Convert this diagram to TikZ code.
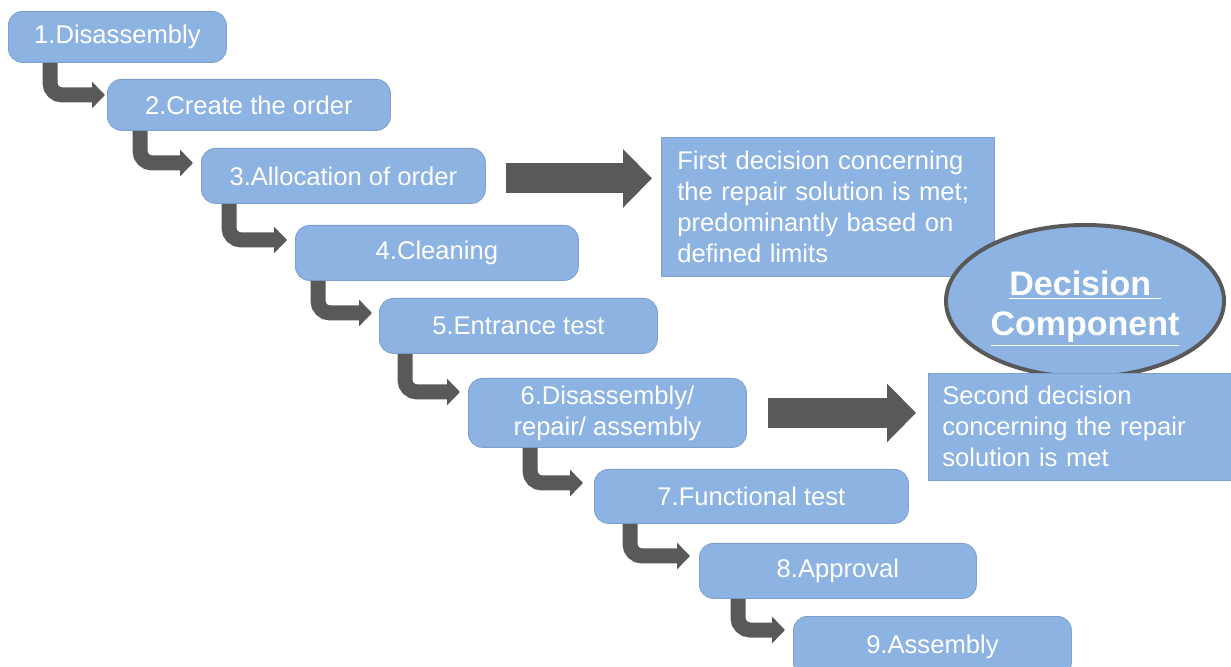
\documentclass[tikz,border=0pt]{standalone}
\usepackage{fontspec}
\setmainfont{Liberation Sans}
\usepackage{tikz}
\usetikzlibrary{arrows.meta}
\usetikzlibrary{shapes}

\definecolor{boxblue}{RGB}{141,179,226}
\definecolor{boxedge}{RGB}{125,160,205}
\definecolor{arrowgray}{RGB}{89,89,89}

\tikzset{
  stepbox/.style={rectangle, rounded corners=7pt, fill=boxblue, draw=boxedge, line width=0.4pt, text=white, anchor=north west, inner sep=0pt, align=center, font=\fontsize{12.8}{15.5}\selectfont},
  notebox/.style={rectangle, fill=boxblue, draw=boxedge, line width=0.3pt, text=white, anchor=north west, inner ysep=0pt, align=left, font=\fontsize{12.8}{15.5}\selectfont},
  bendarrow/.style={draw=arrowgray, line width=7.5pt, rounded corners=6pt, -{Triangle[width=13pt,length=6.5pt]}},
  bigarrow/.style={draw=arrowgray, line width=15pt, -{Triangle[width=28.5pt,length=14.5pt]}}
}

\begin{document}
\begin{tikzpicture}[x=0.5pt, y=-0.5pt]
\useasboundingbox (0,0) rectangle (1231,667);
\node[stepbox, minimum width=109pt, minimum height=25.5pt] (s1) at (8,11) {1.Disassembly};
\node[stepbox, minimum width=141.5pt, minimum height=25.5pt] (s2) at (107,79) {2.Create the order};
\node[stepbox, minimum width=142pt, minimum height=27.5pt] (s3) at (201,148) {3.Allocation of order};
\node[stepbox, minimum width=141.5pt, minimum height=27.5pt] (s4) at (295,225) {4.Cleaning};
\node[stepbox, minimum width=139pt, minimum height=27.5pt] (s5) at (379,298) {5.Entrance test};
\node[stepbox, minimum width=139pt, minimum height=34.5pt] (s6) at (468,378) {6.Disassembly/\\repair/ assembly};
\node[stepbox, minimum width=157pt, minimum height=27pt] (s7) at (594,469) {7.Functional test};
\node[stepbox, minimum width=138.5pt, minimum height=27.5pt] (s8) at (699,543) {8.Approval};
\node[stepbox, minimum width=139pt, minimum height=30pt] (s9) at (793,616) {9.Assembly};
% decision notes
\node[notebox, text width=150.5pt, inner xsep=8pt, minimum height=69.5pt] (d1) at (661,137) {First decision concerning\\the repair solution is met;\\predominantly based on\\defined limits};
\node[ellipse, fill=boxblue, draw=arrowgray, line width=2pt, minimum width=139pt, minimum height=76pt, inner sep=0pt, text=white, align=center, font=\fontsize{17}{20}\selectfont\bfseries] (e1) at (1085,301) {\rule{0pt}{20pt}\underline{Decision\ }\\\underline{Component}};
\node[notebox, text width=137.5pt, inner xsep=7pt, minimum height=53.5pt] (d2) at (928,373) {Second decision\\concerning the repair\\solution is met};
% step connectors
\draw[bendarrow] ([xshift=21pt]s1.south west) |- ([xshift=-1pt,yshift=-8pt]s2.north west);
\draw[bendarrow] ([xshift=16.5pt]s2.south west) |- ([xshift=-4pt,yshift=-7.5pt]s3.north west);
\draw[bendarrow] ([xshift=14pt]s3.south west) |- ([xshift=-4pt,yshift=-7.5pt]s4.north west);
\draw[bendarrow] ([xshift=11.5pt]s4.south west) |- ([xshift=-3.5pt,yshift=-7.5pt]s5.north west);
\draw[bendarrow] ([xshift=13pt]s5.south west) |- ([xshift=-4pt,yshift=-7pt]s6.north west);
\draw[bendarrow] ([xshift=31pt]s6.south west) |- ([xshift=-5.5pt,yshift=-7pt]s7.north west);
\draw[bendarrow] ([xshift=18pt]s7.south west) |- ([xshift=-4.5pt,yshift=-6.5pt]s8.north west);
\draw[bendarrow] ([xshift=19.5pt]s8.south west) |- ([xshift=-4pt,yshift=-7pt]s9.north west);
% decision arrows
\coordinate (a1) at ([xshift=10pt,yshift=-1.25pt]s3.east);
\draw[bigarrow, shorten >=4.5pt] (a1) -- (a1 -| d1.west);
\coordinate (a2) at ([xshift=10.5pt]s6.east);
\draw[bigarrow, shorten >=6pt] (a2) -- (a2 -| d2.west);
\end{tikzpicture}
\end{document}
